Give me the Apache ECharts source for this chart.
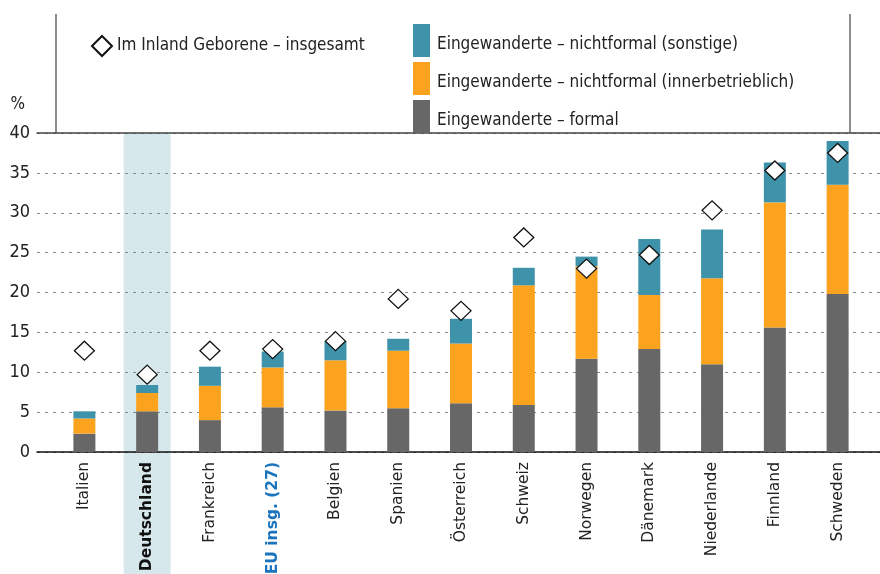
<!DOCTYPE html>
<html>
<head>
<meta charset="utf-8">
<script src="https://cdn.jsdelivr.net/npm/echarts@6/dist/echarts.min.js"></script>
<style>
  html, body { margin: 0; padding: 0; background: #fff; }
  #chart { width: 880px; height: 574px; }
</style>
</head>
<body>
<div id="chart"></div>
<script>
const countries = ["Italien", "Deutschland", "Frankreich", "EU insg. (27)", "Belgien", "Spanien",
  "Österreich", "Schweiz", "Norwegen", "Dänemark", "Niederlande", "Finnland", "Schweden"];
const formal = [2.3, 5.1, 4.0, 5.6, 5.2, 5.5, 6.1, 5.9, 11.7, 12.9, 11.0, 15.6, 19.8];
const innerbetrieblich = [1.9, 2.3, 4.3, 5.0, 6.3, 7.2, 7.5, 15.0, 11.6, 6.8, 10.8, 15.7, 13.7];
const sonstige = [0.9, 1.0, 2.4, 2.0, 2.4, 1.5, 3.1, 2.2, 1.2, 7.0, 6.1, 5.0, 5.5];
const inlandGeborene = [12.7, 9.7, 12.7, 12.9, 13.9, 19.2, 17.7, 26.9, 23.0, 24.7, 30.3, 35.3, 37.5];
const highlight = [null, 1, null, null, null, null, null, null, null, null, null, null, null];
const yTicks = [0, 5, 10, 15, 20, 25, 30, 35, 40];

const narrow = "'DejaVu Sans Condensed', 'Liberation Sans', sans-serif";
const chart = echarts.init(document.getElementById("chart"));

const option = {
  animation: false,
  grid: [
    { left: 37, right: 0, top: 133, bottom: 122, outerBoundsMode: "none" },
    { left: 53, right: 11, top: 133, bottom: 122, outerBoundsMode: "none" },
    { left: 53, right: 11, top: 133, bottom: 0, outerBoundsMode: "none" }
  ],
  legend: [
    {
      left: 408, top: 19, orient: "vertical", itemWidth: 17, itemHeight: 33, itemGap: 5,
      icon: "rect", itemStyle: { borderWidth: 0 },
      data: ["Eingewanderte – nichtformal (sonstige)", "Eingewanderte – nichtformal (innerbetrieblich)", "Eingewanderte – formal"],
      formatter: function (name) { return "{t|" + name + "}"; },
      textStyle: {
        fontFamily: narrow, fontSize: 17, color: "#222",
        rich: { t: { fontFamily: narrow, fontSize: 17, color: "#222", padding: [9, 0, 0, 2] } }
      }
    },
    {
      left: 86, top: 30, itemWidth: 20, itemHeight: 20,
      data: ["Im Inland Geborene – insgesamt"],
      textStyle: { fontFamily: narrow, fontSize: 17, color: "#222" }
    }
  ],
  xAxis: [
    {
      gridIndex: 0, type: "value", min: 0, max: 1,
      axisLine: { show: true, lineStyle: { color: "#111", width: 1.5 } },
      axisTick: { show: false }, axisLabel: { show: false }, splitLine: { show: false }
    },
    {
      gridIndex: 0, type: "value", min: 0, max: 1, position: "top",
      axisLine: { show: true, lineStyle: { color: "#444", width: 1.5 } },
      axisTick: { show: false }, axisLabel: { show: false }, splitLine: { show: false }
    },
    {
      gridIndex: 1, type: "category", data: countries,
      axisLine: { show: false }, axisTick: { show: false },
      axisLabel: {
        rotate: 90, margin: 10, fontFamily: "DejaVu Sans", fontSize: 15.5, color: "#222",
        formatter: function (v) {
          if (v === "Deutschland") return "{b|" + v + "}";
          if (v === "EU insg. (27)") return "{eu|" + v + "}";
          return v;
        },
        rich: {
          b: { fontFamily: "DejaVu Sans", fontSize: 15.5, fontWeight: "bold", color: "#111" },
          eu: { fontFamily: "DejaVu Sans", fontSize: 15.5, fontWeight: "bold", color: "#1a74bd" }
        }
      }
    },
    {
      gridIndex: 2, type: "category", data: countries, show: false
    }
  ],
  yAxis: [
    {
      gridIndex: 0, type: "value", min: 0, max: 40, interval: 5,
      name: "%", nameLocation: "end", nameGap: 20,
      nameTextStyle: { fontFamily: narrow, fontSize: 17, color: "#222", align: "right", padding: [0, 12, 0, 0] },
      axisLine: { show: false }, axisTick: { show: false },
      axisLabel: {
        fontFamily: narrow, fontSize: 18, color: "#222", margin: 7,
        formatter: function (v) { return yTicks.indexOf(v) >= 0 ? String(v) : ""; }
      },
      splitLine: { show: true, lineStyle: { color: "#888", type: [3, 5], width: 1 } }
    },
    { gridIndex: 1, type: "value", min: 0, max: 40, show: false },
    { gridIndex: 2, type: "value", min: 0, max: 1, show: false }
  ],
  series: [
    {
      name: "band", type: "bar", xAxisIndex: 3, yAxisIndex: 2, data: highlight,
      barWidth: 47, z: -1, silent: true, itemStyle: { color: "#d7e8ec" }
    },
    {
      name: "Eingewanderte – formal", type: "bar", stack: "s", xAxisIndex: 2, yAxisIndex: 1,
      data: formal, barWidth: 22, itemStyle: { color: "#676767" }
    },
    {
      name: "Eingewanderte – nichtformal (innerbetrieblich)", type: "bar", stack: "s", xAxisIndex: 2, yAxisIndex: 1,
      data: innerbetrieblich, barWidth: 22, itemStyle: { color: "#fba31f" }
    },
    {
      name: "Eingewanderte – nichtformal (sonstige)", type: "bar", stack: "s", xAxisIndex: 2, yAxisIndex: 1,
      data: sonstige, barWidth: 22, itemStyle: { color: "#3e93ab" }
    },
    {
      name: "Im Inland Geborene – insgesamt", type: "scatter", xAxisIndex: 2, yAxisIndex: 1,
      data: inlandGeborene, symbol: "diamond", symbolSize: [20, 19], z: 5,
      itemStyle: { color: "#fff", borderColor: "#111", borderWidth: 1.3, opacity: 1 }
    }
  ],
  graphic: [
    { type: "line", shape: { x1: 56, y1: 14, x2: 56, y2: 133 }, style: { stroke: "#444", lineWidth: 1.2 } },
    { type: "line", shape: { x1: 850, y1: 14, x2: 850, y2: 133 }, style: { stroke: "#444", lineWidth: 1.2 } }
  ]
};

chart.setOption(option);
</script>
</body>
</html>
